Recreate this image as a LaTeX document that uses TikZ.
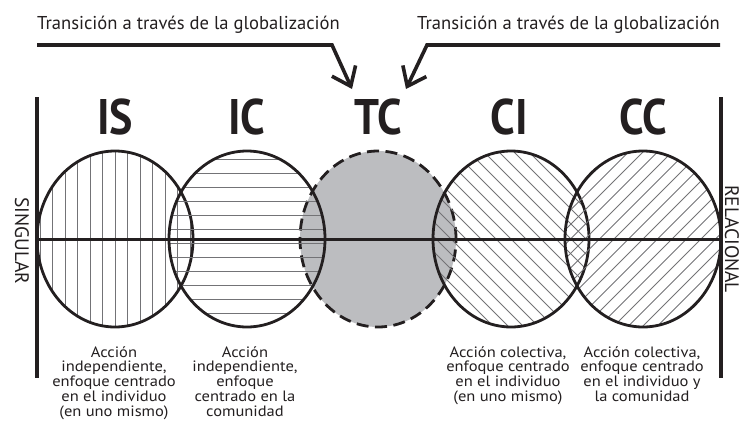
\documentclass[tikz,border=0pt]{standalone}
\usepackage{fontspec}
\setmainfont{PT Sans}
\newfontfamily\bigfont{PT Sans}[FakeStretch=0.88]
\newfontfamily\descfont{PT Sans}[FakeStretch=1.1]
\usetikzlibrary{shapes.geometric,arrows.meta}
\definecolor{ink}{RGB}{35,31,32}
\definecolor{tcgray}{RGB}{188,189,192}
\definecolor{hatchc}{RGB}{115,115,118}
\tikzset{
  circ/.style={ellipse, minimum width=156pt, minimum height=176pt, inner sep=0pt, line width=2.8pt, draw=ink},
  hatch/.style={draw=hatchc, line width=0.8pt},
  bar/.style={line width=3.6pt, draw=ink},
  vhatch/.style={path picture={\foreach \k in {-7,...,7}{\draw[hatch] ([xshift=\k*12.5pt]path picture bounding box.north) -- ([xshift=\k*12.5pt]path picture bounding box.south);}}},
  hhatch/.style={path picture={\foreach \k in {-7,...,7}{\draw[hatch] ([yshift=-4pt+\k*14pt]path picture bounding box.west) -- ([yshift=-4pt+\k*14pt]path picture bounding box.east);}}},
  bshatch/.style={path picture={\foreach \k in {-14,...,14}{\draw[hatch, shift={(path picture bounding box.center)}] (\k*15-100,-100) -- (\k*15+100,100);}}},
  fshatch/.style={path picture={\foreach \k in {-14,...,14}{\draw[hatch, shift={(path picture bounding box.center)}] (\k*14.5-100,100) -- (\k*14.5+100,-100);}}},
  big/.style={font=\bigfont\fontsize{50}{50}\selectfont\bfseries, text=ink, inner sep=0pt, anchor=base},
  toptext/.style={font=\fontsize{18.6}{20}\selectfont, text=ink, inner sep=0pt},
  side/.style={font=\fontsize{19.5}{20}\selectfont, text=ink, inner sep=0pt, rotate=-90},
  desc/.style={font=\descfont\fontsize{15}{14.8}\selectfont, text=ink, inner sep=0pt, align=center, anchor=north},
  tip/.style={-{Straight Barb[length=17pt,width=26pt]}}
}
\begin{document}
\begin{tikzpicture}[x=1pt,y=-1pt]
\useasboundingbox (0,0) rectangle (742,439);
% circles
\node[circ, fill=tcgray, dash pattern=on 12pt off 6.5pt] (ctc) at (378,239) {};
\node[circ, vhatch] (cis) at (115,239) {};
\node[circ, hhatch] (cic) at (247,239) {};
\node[circ, bshatch] (cci) at (511,239) {};
\node[circ, fshatch] (ccc) at (643,239) {};
% axis lines
\coordinate (lt) at (37,97);
\coordinate (lb) at (37,378);
\coordinate (rt) at (721,97);
\coordinate (rb) at (721,378);
\coordinate (ml) at (37,239);
\coordinate (mr) at (721,239);
\draw[bar] (lt) -- (lb);
\draw[bar] (rt) -- (rb);
\draw[bar, line width=3pt] (ml) -- (mr);
% big labels
\node[big] (lis) at (115,134.5) {IS};
\node[big] (lic) at (247,134.5) {IC};
\node[big] (ltc) at (378,134.5) {TC};
\node[big] (lci) at (509,134.5) {CI};
\node[big] (lcc) at (643,134.5) {CC};
% top texts and arrows
\node[toptext, anchor=base west] (ttl) at (37,30) {Transición a través de la globalización};
\node[toptext, anchor=base east] (ttr) at (720,30) {Transición a través de la globalización};
\coordinate (la0) at (37,45);
\coordinate (la1) at (332,45);
\coordinate (la2) at (352,89);
\coordinate (ra0) at (720,45);
\coordinate (ra1) at (427,45);
\coordinate (ra2) at (406,89);
\draw[bar, tip] (la0) -- (la1) -- (la2);
\draw[bar, tip] (ra0) -- (ra1) -- (ra2);
% side labels
\node[side] (sing) at (22,241) {SINGULAR};
\node[side] (rel) at (732,239) {RELACIONAL};
% descriptions
\node[desc] (d1) at (114,346) {Acción\\independiente,\\enfoque centrado\\en el individuo\\(en uno mismo)};
\node[desc] (d2) at (245,346) {Acción\\independiente,\\enfoque\\centrado en la\\comunidad};
\node[desc] (d3) at (508,346) {Acción colectiva,\\enfoque centrado\\en el individuo\\(en uno mismo)};
\node[desc] (d4) at (642,346) {Acción colectiva,\\enfoque centrado\\en el individuo y\\la comunidad};
\end{tikzpicture}
\end{document}
